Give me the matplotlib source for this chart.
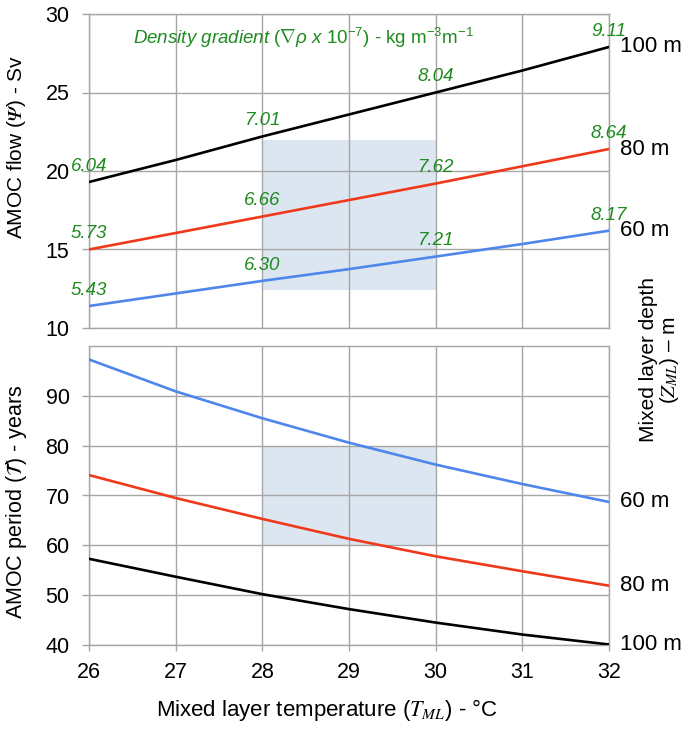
import numpy as np
import matplotlib
matplotlib.use('Agg')
import matplotlib.pyplot as plt
from matplotlib.patches import Rectangle

plt.rcParams['font.family'] = ['Liberation Sans', 'DejaVu Sans']
plt.rcParams['mathtext.fontset'] = 'custom'
plt.rcParams['mathtext.rm'] = 'Liberation Sans'
plt.rcParams['mathtext.it'] = 'Liberation Sans:italic'

# mixed layer temperature (deg C)
temp = [26, 27, 28, 29, 30, 31, 32]

# AMOC flow (Sv) for each mixed layer depth
flow_100 = [19.3, 20.7, 22.2, 23.6, 25.0, 26.4, 27.9]
flow_80 = [15.0, 16.05, 17.1, 18.15, 19.2, 20.3, 21.4]
flow_60 = [11.4, 12.2, 13.0, 13.75, 14.55, 15.35, 16.2]

# AMOC period (years)
period_60 = [97.3, 90.9, 85.5, 80.6, 76.2, 72.3, 68.7]
period_80 = [74.1, 69.5, 65.3, 61.3, 57.8, 54.8, 51.9]
period_100 = [57.3, 53.7, 50.2, 47.2, 44.5, 42.1, 40.1]

# density gradient labels (x 1e-7) at 26, 28, 30, 32
grad_temp = [26, 28, 30, 32]
grad_100 = ['6.04', '7.01', '8.04', '9.11']
grad_80 = ['5.73', '6.66', '7.62', '8.64']
grad_60 = ['5.43', '6.30', '7.21', '8.17']

depths = ['100 m', '80 m', '60 m']

BLACK = '#000000'
RED = '#f0391a'
BLUE = '#4f86ec'
GREEN = '#1f8a1f'
GRID = '#a6a6a6'
SHADE = '#dce6f1'

W, H = 692, 729
fig = plt.figure(figsize=(W / 100, H / 100), dpi=100)
ax1 = fig.add_axes([89 / W, 1 - 328 / H, 520 / W, 314 / H])
ax2 = fig.add_axes([89 / W, 1 - 645 / H, 520 / W, 299 / H])


def style_axes(ax, show_x):
    ax.grid(True, color=GRID, lw=1.0)
    ax.set_axisbelow(True)
    for s in ax.spines.values():
        s.set_color(GRID)
        s.set_linewidth(1.0)
    ax.tick_params(axis='y', length=5, width=1.0, color=GRID, pad=9, labelsize=15.5)
    if show_x:
        ax.tick_params(axis='x', length=4, width=1.0, color=GRID, pad=8, labelsize=15.5)
    else:
        ax.tick_params(axis='x', length=0, labelbottom=False)
    ax.set_xlim(26, 32)
    ax.set_xticks(temp)


# ---- top panel: AMOC flow
style_axes(ax1, False)
ax1.set_ylim(10, 30)
ax1.set_yticks([10, 15, 20, 25, 30])
ax1.add_patch(Rectangle((28, 12.4), 2, 9.6, color=SHADE, zorder=0.5, lw=0))
for vals, col, grads, dep in [(flow_100, BLACK, grad_100, depths[0]),
                              (flow_80, RED, grad_80, depths[1]),
                              (flow_60, BLUE, grad_60, depths[2])]:
    ax1.plot(temp, vals, color=col, lw=1.9, zorder=3)
    for t, g in zip(grad_temp, grads):
        yv = vals[temp.index(t)]
        ax1.annotate(g, (t, yv), xytext=(0, 8), textcoords='offset points',
                     ha='center', va='baseline', color=GREEN, fontsize=13.5,
                     fontstyle='italic', annotation_clip=False, zorder=4)
    ax1.annotate(dep, (32, vals[-1]), xytext=(8, 0), textcoords='offset points',
                 ha='left', va='center', fontsize=16, annotation_clip=False)

fig.text(133 / W, 1 - 38 / H,
         r'$\it{Density\ gradient\ (\nabla\rho\ x\ 10^{-7})}$ - kg m$^{-3}$m$^{-1}$',
         color=GREEN, fontsize=13.5, ha='left', va='center')

# ---- bottom panel: AMOC period
style_axes(ax2, True)
ax2.set_ylim(40, 100)
ax2.set_yticks([40, 50, 60, 70, 80, 90])
ax2.add_patch(Rectangle((28, 60), 2, 20, color=SHADE, zorder=0.5, lw=0))
for vals, col, dep in [(period_60, BLUE, depths[2]),
                       (period_80, RED, depths[1]),
                       (period_100, BLACK, depths[0])]:
    ax2.plot(temp, vals, color=col, lw=1.9, zorder=3)
    ax2.annotate(dep, (32, vals[-1]), xytext=(8, 0), textcoords='offset points',
                 ha='left', va='center', fontsize=16, annotation_clip=False)

# ---- axis labels
fig.text(17 / W, 1 - 147 / H, r'AMOC flow ($𝛹$) - Sv', rotation=90,
         ha='center', va='center', fontsize=15, math_fontfamily='stix')
fig.text(17 / W, 1 - 502 / H, r'AMOC period ($\mathcal{T}$) - years', rotation=90,
         ha='center', va='center', fontsize=15.5, math_fontfamily='stix')
fig.text(327 / W, 1 - 710 / H, r'Mixed layer temperature ($T_{ML}$) - °C',
         ha='center', va='center', fontsize=16, math_fontfamily='stix')
fig.text(660 / W, 1 - 360 / H, 'Mixed layer depth\n' + r'($Z_{ML}$) – m', rotation=90,
         ha='center', va='center', fontsize=15, multialignment='center',
         math_fontfamily='stix', linespacing=1.05)

fig.savefig('out.png', dpi=100)
